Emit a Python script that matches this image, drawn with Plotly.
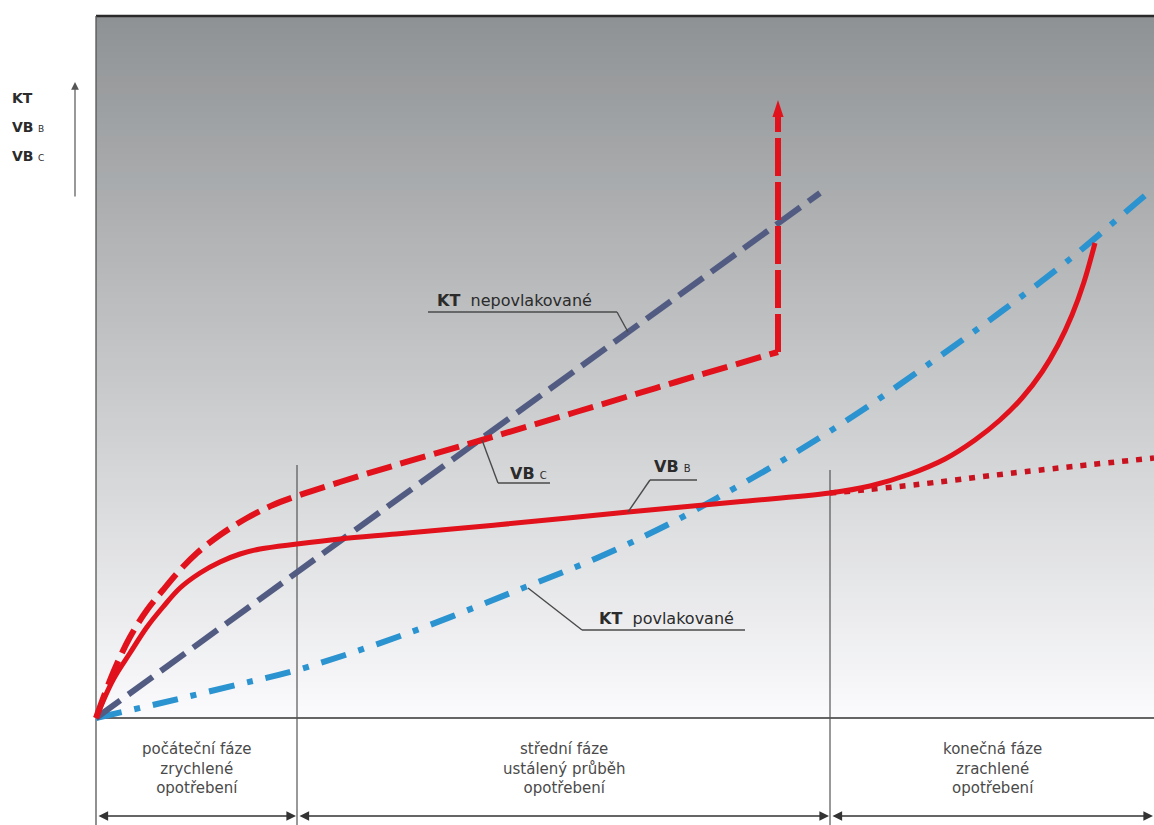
import plotly.graph_objects as go

# ---------------- data (arbitrary wear units; x = time, y = wear) ----------------
phase_bounds = [0, 201, 734, 1058]
phase_labels = ["počáteční fáze<br>zrychlené<br>opotřebení",
                "střední fáze<br>ustálený průběh<br>opotřebení",
                "konečná fáze<br>zrachlené<br>opotřebení"]

kt_nepov_x = [0, 724]
kt_nepov_y = [0, 525]

kt_pov_x = [0, 61, 144, 201, 307, 427, 501, 571, 621, 694, 762, 837, 906, 974, 1039, 1058]
kt_pov_y = [0, 14, 34, 48, 83, 130, 160, 193, 220, 262, 305, 357, 407, 459, 514, 530]

vbc_x = [0, 17, 34, 51, 67, 84, 101, 124, 151, 177, 201, 244, 300, 386, 480, 580, 682]
vbc_y = [0, 45, 81, 108, 128, 148, 165, 183, 200, 213, 222, 236, 253, 278, 306, 336, 366]
vbc_jump_x = [682, 682]
vbc_jump_y = [366, 618]

vbb_x = [0, 17, 34, 51, 67, 84, 104, 124, 144, 164, 201, 244, 300, 400, 532, 640, 734,
         774, 814, 849, 879, 904, 926, 946, 962, 976, 988, 999]
vbb_y = [0, 38, 65, 91, 111, 130, 145, 156, 164, 169, 174, 179, 184, 193, 206, 216, 225,
         232, 244, 259, 278, 298, 320, 346, 373, 403, 436, 475]
vbb_ext_x = [734, 767, 817, 917, 1058]
vbb_ext_y = [225, 228, 233, 245, 260]

X_MIN, X_MAX = -96, 1058
Y_MIN, Y_MAX = -107, 718
PLOT_TOP = 702

RED = "#e1121c"
SLATE = "#525c82"
BLUE = "#2a93d0"
FONT = "DejaVu Sans"

fig = go.Figure()

# background gradient (grey at top -> white at bottom)
n_bands = 117
top_rgb = (143, 146, 148)
bot_rgb = (251, 251, 253)
shapes = []
for i in range(n_bands):
    y0 = PLOT_TOP * i / n_bands
    y1 = PLOT_TOP * (i + 1) / n_bands + 0.6
    t = (i + 0.5) / n_bands
    c = tuple(round(bot_rgb[k] + (top_rgb[k] - bot_rgb[k]) * t) for k in range(3))
    shapes.append(dict(type="rect", xref="x", yref="y", x0=0, x1=X_MAX, y0=y0, y1=min(y1, PLOT_TOP),
                       fillcolor="rgb(%d,%d,%d)" % c, line=dict(width=0), layer="below"))

# frame lines
shapes.append(dict(type="line", x0=0, x1=X_MAX, y0=PLOT_TOP, y1=PLOT_TOP,
                   line=dict(color="#2a2a2a", width=2.5), layer="below"))
shapes.append(dict(type="line", x0=0, x1=0, y0=Y_MIN, y1=PLOT_TOP,
                   line=dict(color="#555555", width=1.3), layer="below"))
shapes.append(dict(type="line", x0=0, x1=X_MAX, y0=0, y1=0,
                   line=dict(color="#333333", width=1.5), layer="below"))
# phase separators
shapes.append(dict(type="line", x0=phase_bounds[1], x1=phase_bounds[1], y0=Y_MIN, y1=253,
                   line=dict(color="#555555", width=1.2), layer="below"))
shapes.append(dict(type="line", x0=phase_bounds[2], x1=phase_bounds[2], y0=Y_MIN, y1=248,
                   line=dict(color="#555555", width=1.2), layer="below"))

# leader lines for labels
leader = dict(color="#4a4a4a", width=1.4)
for pts in [
    [(332, 406), (521, 406), (532, 386)],          # KT nepovlakované
    [(386, 278), (402, 235), (454, 235)],          # VB C
    [(532, 206), (554, 238), (601, 238)],          # VB B
    [(432, 130), (486, 88), (649, 88)],            # KT povlakované
]:
    for (xa, ya), (xb, yb) in zip(pts[:-1], pts[1:]):
        shapes.append(dict(type="line", x0=xa, y0=ya, x1=xb, y1=yb, line=leader, layer="above"))

# ---------------- traces ----------------
fig.add_trace(go.Scatter(x=kt_pov_x, y=kt_pov_y, mode="lines",
                         line=dict(color=BLUE, width=6, dash="26px,13px,6px,13px", shape="spline"),
                         hoverinfo="skip"))
fig.add_trace(go.Scatter(x=kt_nepov_x, y=kt_nepov_y, mode="lines",
                         line=dict(color=SLATE, width=6, dash="30px,10px"),
                         hoverinfo="skip"))
fig.add_trace(go.Scatter(x=vbb_ext_x, y=vbb_ext_y, mode="lines",
                         line=dict(color="#c8121f", width=5.5, dash="6px,8px", shape="spline"),
                         hoverinfo="skip"))
fig.add_trace(go.Scatter(x=vbb_x, y=vbb_y, mode="lines",
                         line=dict(color=RED, width=5, shape="spline", smoothing=1),
                         hoverinfo="skip"))
fig.add_trace(go.Scatter(x=vbc_x, y=vbc_y, mode="lines",
                         line=dict(color=RED, width=6, dash="26px,9px", shape="spline", smoothing=1),
                         hoverinfo="skip"))
fig.add_trace(go.Scatter(x=vbc_jump_x, y=vbc_jump_y, mode="lines+markers",
                         line=dict(color=RED, width=6, dash="38px,6px"),
                         marker=dict(symbol="arrow", angleref="previous", size=[0, 18], color=RED,
                                     opacity=1, line=dict(width=0)),
                         hoverinfo="skip"))

# ---------------- annotations ----------------
ann = []
lab_font = dict(family=FONT, size=16, color="#2b2b2b")
ann.append(dict(x=339, y=418, xref="x", yref="y", xanchor="left", yanchor="middle", showarrow=False,
                text="<b>KT</b>\u00a0\u00a0nepovlakované", font=lab_font))
ann.append(dict(x=412, y=245, xref="x", yref="y", xanchor="left", yanchor="middle", showarrow=False,
                text="<b>VB</b> <span style='font-size:10px'>C</span>", font=lab_font))
ann.append(dict(x=556, y=252, xref="x", yref="y", xanchor="left", yanchor="middle", showarrow=False,
                text="<b>VB</b> <span style='font-size:10px'>B</span>", font=lab_font))
ann.append(dict(x=501, y=100, xref="x", yref="y", xanchor="left", yanchor="middle", showarrow=False,
                text="<b>KT</b>\u00a0\u00a0povlakované", font=lab_font))

# y-axis label
ax_font = dict(family=FONT, size=14, color="#2b2b2b")
for txt, yy in [("<b>KT</b>", 620), ("<b>VB</b> <span style='font-size:9px'>B</span>", 591),
                ("<b>VB</b> <span style='font-size:9px'>C</span>", 562)]:
    ann.append(dict(x=-86, y=yy, xref="x", yref="y", xanchor="left", yanchor="middle",
                    showarrow=False, text=txt, font=ax_font))
ann.append(dict(x=-21, y=636, ax=-21, ay=520, xref="x", yref="y", axref="x", ayref="y",
                text="", showarrow=True, arrowhead=2, arrowsize=1.3, arrowwidth=1.2,
                arrowcolor="#555555", standoff=0))

# phase labels and double arrows
ph_font = dict(family=FONT, size=15, color="#4a4a4a")
for i, lab in enumerate(phase_labels):
    x0, x1 = phase_bounds[i], phase_bounds[i + 1]
    ann.append(dict(x=(x0 + x1) / 2, y=-50, xref="x", yref="y", xanchor="center", yanchor="middle",
                    showarrow=False, text=lab, font=ph_font, align="center"))
    ann.append(dict(x=x1, y=-98, ax=x0, ay=-98, xref="x", yref="y", axref="x", ayref="y",
                    text="", showarrow=True, arrowhead=2, arrowside="end+start", arrowsize=1.2,
                    arrowwidth=1.6, arrowcolor="#333333", standoff=1, startstandoff=1))

fig.update_layout(
    width=1154, height=825,
    margin=dict(l=0, r=0, t=0, b=0),
    paper_bgcolor="white", plot_bgcolor="white",
    showlegend=False,
    xaxis=dict(range=[X_MIN, X_MAX], visible=False, fixedrange=True),
    yaxis=dict(range=[Y_MIN, Y_MAX], visible=False, fixedrange=True),
    shapes=shapes, annotations=ann,
)

fig.write_html("out.html", config={"displayModeBar": False},
               post_script="document.body.style.margin='0';document.body.style.overflow='hidden';")
